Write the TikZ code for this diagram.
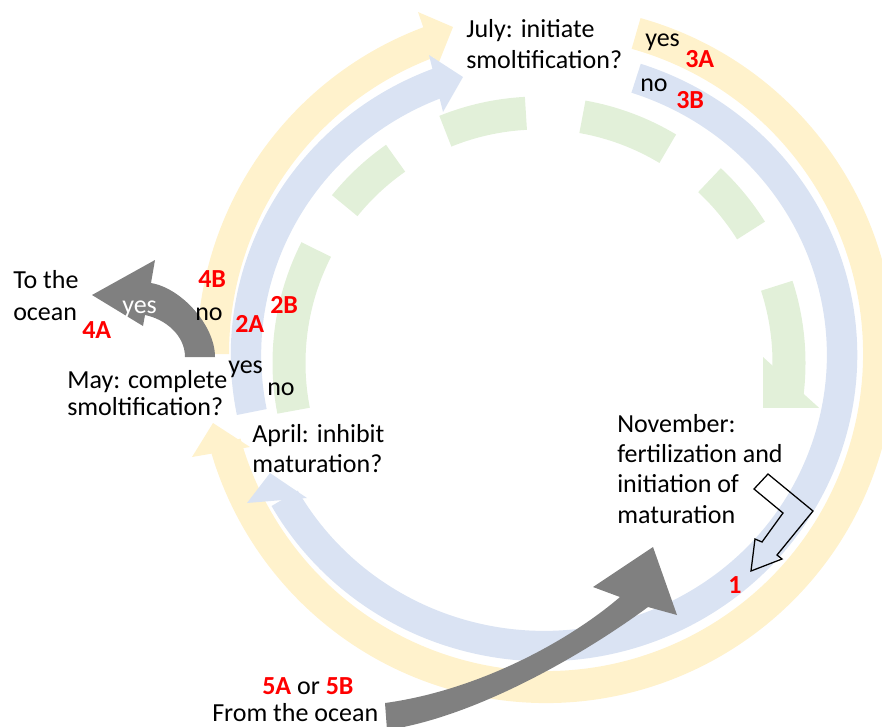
\documentclass[tikz,border=0pt]{standalone}
\usepackage{fontspec}
\setmainfont{Carlito}

\definecolor{ringyellow}{HTML}{FFF2CC}
\definecolor{ringblue}{HTML}{DAE3F3}
\definecolor{ringgreen}{HTML}{E2F0D9}
\definecolor{oceangray}{HTML}{808080}
\definecolor{labred}{HTML}{FF0000}

\tikzset{
  band/.style={line width=0.8cm},
  lbl/.style={font=\fontsize{18.5}{21.3}\selectfont, inner sep=0pt, anchor=base west, align=left},
  num/.style={lbl, text=labred, font=\fontsize{18.5}{21.3}\selectfont\bfseries},
}

\begin{document}
\begin{tikzpicture}[x=0.025cm, y=-0.025cm]
  \useasboundingbox (0,0) rectangle (882,726);

  % outer route (yellow)
  \draw[band, ringyellow] (546,354) ++(-74.3:333) arc[start angle=-74.3, end angle=164.5, radius=333];
  \fill[ringyellow] (192,457) -- (213,423) -- (250,447) -- cycle;
  \draw[band, ringyellow] (546,354) ++(180:333) arc[start angle=180, end angle=250, radius=333];
  \fill[ringyellow] (418,12) -- (453,27) -- (437,67) -- cycle;

  % middle route (blue)
  \draw[band, line width=0.76cm, ringblue] (544,355) ++(-72:298 and 291)
    arc[start angle=-72, end angle=150.5, x radius=298, y radius=291];
  \fill[ringblue] (247,503) -- (270,473) -- (307,498) -- cycle;
  \draw[band, line width=0.76cm, ringblue] (544,355) ++(168.7:298 and 291)
    arc[start angle=168.7, end angle=249.5, x radius=298, y radius=291];
  \fill[ringblue] (429,55) -- (463,77) -- (443,112) -- cycle;

  % inner route (green, dashed)
  \foreach \a/\b in {169/207, 219/235, 248/267, 280/301, 313/328}
    \draw[band, line width=0.825cm, ringgreen] (539,363) ++(\a:250) arc[start angle=\a, end angle=\b, radius=250];
  \begin{scope}
    \clip (700,250) rectangle (882,407);
    \draw[band, line width=0.825cm, ringgreen] (539,363) ++(342:250) arc[start angle=342, end angle=368, radius=250];
    \fill[ringgreen] (763,357) -- (838,425) -- (763,432) -- cycle;
  \end{scope}

  % to and from the ocean
  \fill[oceangray] (385,703) .. controls (480,690) and (570,640) .. (620,597)
    -- (593,587) -- (653,547) -- (677,615) -- (648,607)
    .. controls (590,650) and (480,716) .. (387,730) -- cycle;
  \fill[oceangray] (215,357) .. controls (215,325) and (181,288) .. (151,283)
    -- (155,260) -- (92,295) -- (143,326) -- (145,315)
    .. controls (165,319) and (185,335) .. (185,357) -- cycle;

  % November: bent outline arrow
  \draw[line width=0.9pt, line join=miter] (768,474) -- (813,511) -- (777,555) -- (782,559)
    -- (751,571) -- (755,539) -- (762,542) -- (783,513) -- (754,489) -- cycle;

  % texts (multi-line nodes sit on their last baseline)
  \node[lbl, font=\fontsize{18.5}{22}\selectfont] (july) at (466,68) {July: initiate\\smoltification?};
  \node[lbl] (yes3a) at (645,46) {yes};
  \node[num] (n3a) at (685,67) {3A};
  \node[lbl] (no3b) at (640,91) {no};
  \node[num] (n3b) at (676,108) {3B};
  \node[lbl, font=\fontsize{18.5}{22.7}\selectfont] (toocean) at (13,320) {To the\\ocean};
  \node[num] (n4a) at (82,338) {4A};
  \node[num] (n4b) at (198,287) {4B};
  \node[lbl] (no4b) at (195,320) {no};
  \node[num] (n2a) at (235,332) {2A};
  \node[num] (n2b) at (270,313) {2B};
  \node[lbl] (yes2a) at (228,373) {yes};
  \node[lbl] (no2b) at (267,395) {no};
  \node[lbl, font=\fontsize{18.5}{19.1}\selectfont] (may) at (67,415) {May: complete\\smoltification?};
  \node[lbl] (april) at (252,472) {April: inhibit\\maturation?};
  \node[lbl, font=\fontsize{18.5}{21.5}\selectfont] (november) at (617,523)
    {November:\\fertilization and\\initiation of\\maturation};
  \node[num] (n1) at (728,593) {1};
  \node[lbl] (fives) at (262,694) {\textcolor{labred}{\bfseries 5A} or \textcolor{labred}{\bfseries 5B}};
  \node[lbl] (fromocean) at (212,721) {From the ocean};
  \node[lbl, text=white] (yesgray) at (122,313) {yes};
\end{tikzpicture}
\end{document}
